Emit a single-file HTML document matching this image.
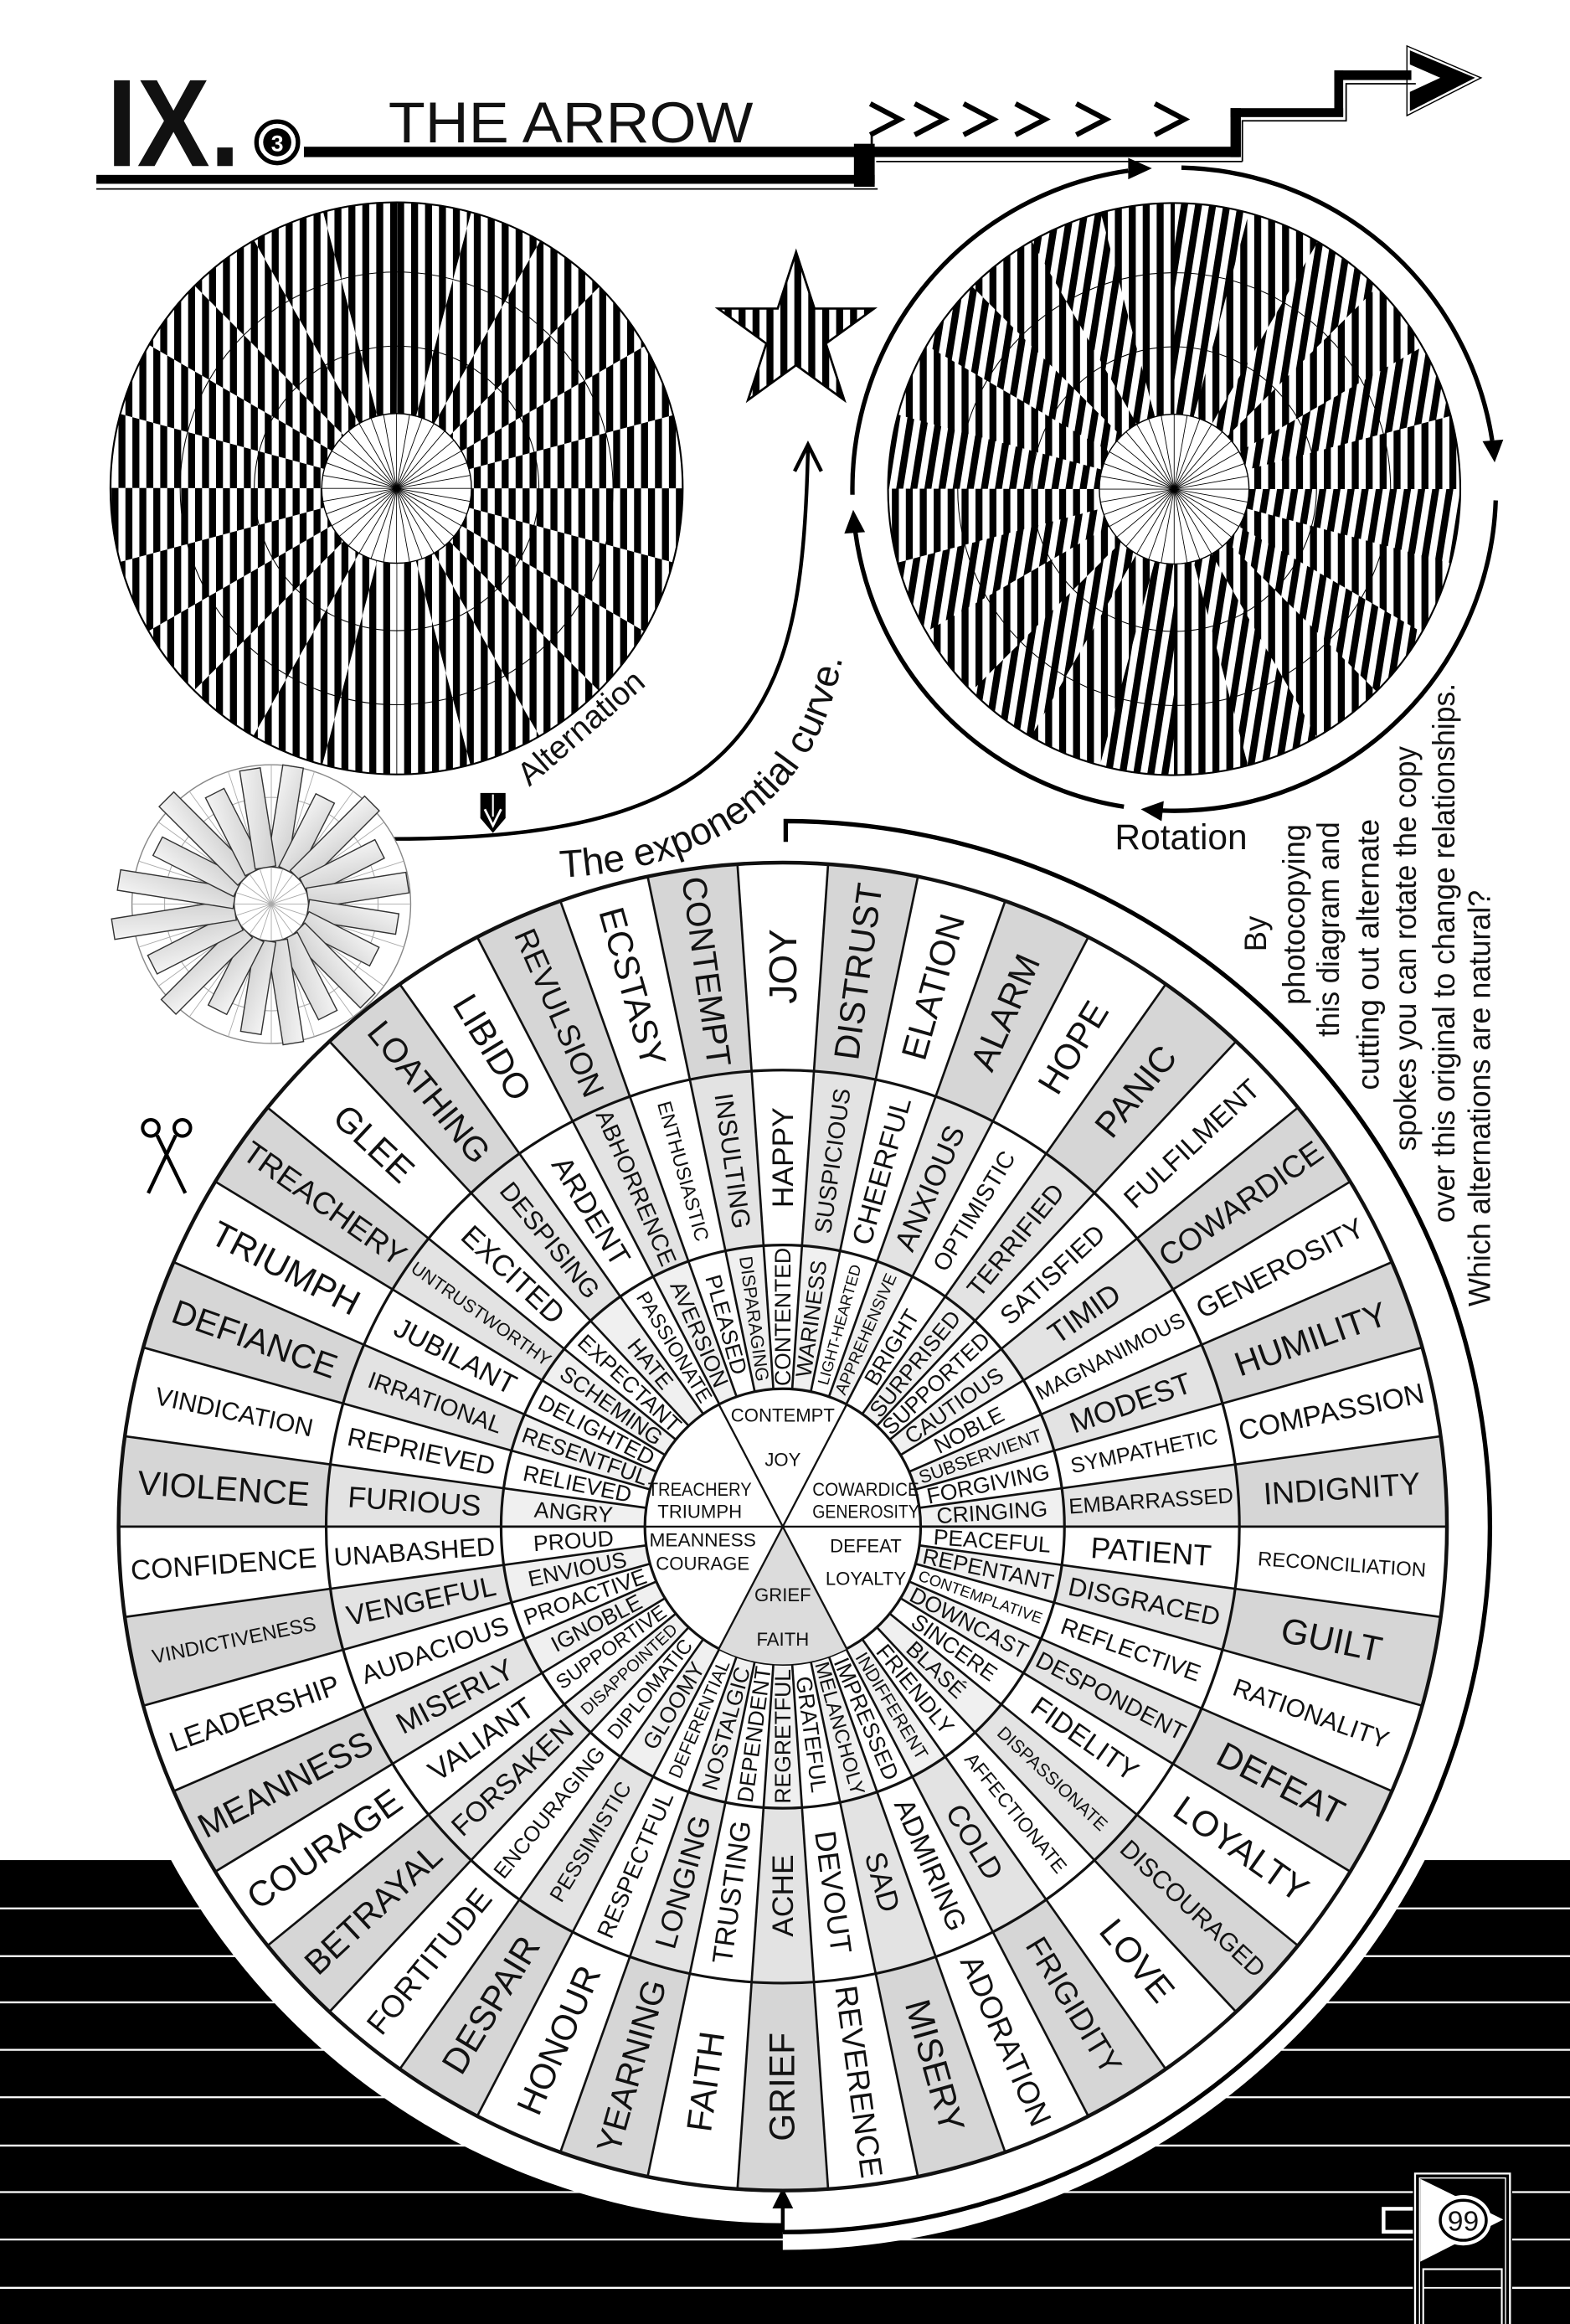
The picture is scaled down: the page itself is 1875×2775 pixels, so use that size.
<!DOCTYPE html>
<html><head><meta charset="utf-8">
<style>
html,body{margin:0;padding:0;background:#fff;}
svg{display:block;}
text{font-family:"Liberation Sans","DejaVu Sans",sans-serif;fill:#111;}
.w text{text-anchor:middle;dominant-baseline:central;}
.o{font-size:24px;}
.m{font-size:19px;}
.i{font-size:15px;}
.c text{font-size:12.5px;}
</style></head>
<body>
<svg width="1875" height="2775" viewBox="0 0 1059 1568" preserveAspectRatio="none" xmlns="http://www.w3.org/2000/svg">
<defs>
<pattern id="sA" patternUnits="userSpaceOnUse" width="9.4" height="20"><rect width="4.7" height="20" fill="#000"/></pattern>
<pattern id="sB" patternUnits="userSpaceOnUse" width="9.4" height="20"><rect x="4.7" width="4.7" height="20" fill="#000"/></pattern>
<pattern id="sC" patternUnits="userSpaceOnUse" width="9.4" height="20" patternTransform="rotate(9)"><rect width="4.7" height="20" fill="#000"/></pattern>
<mask id="mL" maskUnits="userSpaceOnUse" x="0" y="0" width="1059" height="1568">
<circle cx="267.5" cy="329.5" r="96.5" fill="none" stroke="#fff" stroke-width="193" stroke-dasharray="25.265 25.265"/>
</mask>
<mask id="mR" maskUnits="userSpaceOnUse" x="0" y="0" width="1059" height="1568">
<circle cx="792" cy="330" r="96.5" fill="none" stroke="#fff" stroke-width="193" stroke-dasharray="25.265 25.265"/>
</mask>
<linearGradient id="gw" x1="0" y1="0" x2="1" y2="1"><stop offset="0" stop-color="#f4f4f4"/><stop offset="1" stop-color="#cfcfcf"/></linearGradient>
</defs>
<rect width="1059" height="1568" fill="#fff"/>

<!-- bottom stripes -->
<rect x="0" y="1255" width="1059" height="313" fill="#000"/>
<g stroke="#fff" stroke-width="1.3">
<line x1="0" y1="1287.6" x2="1059" y2="1287.6"/><line x1="0" y1="1319.8" x2="1059" y2="1319.8"/>
<line x1="0" y1="1351" x2="1059" y2="1351"/><line x1="0" y1="1383" x2="1059" y2="1383"/>
<line x1="0" y1="1415" x2="1059" y2="1415"/><line x1="0" y1="1447.6" x2="1059" y2="1447.6"/>
<line x1="0" y1="1479" x2="1059" y2="1479"/><line x1="0" y1="1511" x2="1059" y2="1511"/>
<line x1="0" y1="1543.6" x2="1059" y2="1543.6"/>
</g>

<!-- page number -->
<rect x="932" y="1489" width="22" height="18" fill="#fff"/>
<rect x="934.5" y="1491.5" width="19" height="13" fill="#000"/>
<rect x="953" y="1465" width="67" height="103" fill="#000"/>
<rect x="954.5" y="1466.5" width="64" height="110" fill="none" stroke="#fff" stroke-width="1.3"/>
<rect x="957.5" y="1469.5" width="58" height="110" fill="none" stroke="#fff" stroke-width="0.8"/>
<polygon points="958,1470 1014,1497.5 958,1526" fill="#fff"/>
<rect x="960" y="1531" width="53" height="40" fill="none" stroke="#fff" stroke-width="1.2"/>
<line x1="960" y1="1543.6" x2="1013" y2="1543.6" stroke="#fff" stroke-width="1"/>
<ellipse cx="987" cy="1498" rx="19" ry="17" fill="#fff"/>
<ellipse cx="987" cy="1498" rx="15.5" ry="13.5" fill="#fff" stroke="#000" stroke-width="2"/>
<text x="987" y="1505" font-size="19" text-anchor="middle">99</text>

<!-- white surround of wheel -->
<circle cx="528" cy="1030" r="470" fill="#fff"/>
<path d="M528,554 A476,476 0 0 1 528,1506" fill="none" stroke="#fff" stroke-width="24"/>
<path d="M530,568 L530,554 A476,476 0 0 1 528,1506" fill="none" stroke="#000" stroke-width="3"/>
<line x1="528" y1="1506" x2="528" y2="1482" stroke="#000" stroke-width="2.5"/>
<polygon points="528,1476 521,1490 535,1490" fill="#000"/>

<!-- WHEEL -->
<g class="w">
<circle cx="528" cy="1030" r="448" fill="#fff"/>
<circle cx="528" cy="1030" r="378" fill="none" stroke="#d6d6d6" stroke-width="140" stroke-dasharray="51.631 51.631" stroke-dashoffset="51.631"/>
<circle cx="528" cy="1030" r="249" fill="none" stroke="#e3e3e3" stroke-width="118" stroke-dasharray="34.011 34.011" stroke-dashoffset="34.011"/>
<circle cx="528" cy="1030" r="141.5" fill="none" stroke="#f0f0f0" stroke-width="97" stroke-dasharray="19.328 19.328" stroke-dashoffset="19.328"/>
<g stroke="#111" stroke-width="1.5">
<line x1="80" y1="1030" x2="976" y2="1030" transform="rotate(-86.087 528 1030)"/>
<line x1="80" y1="1030" x2="976" y2="1030" transform="rotate(-78.26 528 1030)"/>
<line x1="80" y1="1030" x2="976" y2="1030" transform="rotate(-70.435 528 1030)"/>
<line x1="80" y1="1030" x2="976" y2="1030" transform="rotate(-62.609 528 1030)"/>
<line x1="80" y1="1030" x2="976" y2="1030" transform="rotate(-54.783 528 1030)"/>
<line x1="80" y1="1030" x2="976" y2="1030" transform="rotate(-46.957 528 1030)"/>
<line x1="80" y1="1030" x2="976" y2="1030" transform="rotate(-39.13 528 1030)"/>
<line x1="80" y1="1030" x2="976" y2="1030" transform="rotate(-31.304 528 1030)"/>
<line x1="80" y1="1030" x2="976" y2="1030" transform="rotate(-23.478 528 1030)"/>
<line x1="80" y1="1030" x2="976" y2="1030" transform="rotate(-15.652 528 1030)"/>
<line x1="80" y1="1030" x2="976" y2="1030" transform="rotate(-7.826 528 1030)"/>
<line x1="80" y1="1030" x2="976" y2="1030"/>
<line x1="80" y1="1030" x2="976" y2="1030" transform="rotate(7.826 528 1030)"/>
<line x1="80" y1="1030" x2="976" y2="1030" transform="rotate(15.652 528 1030)"/>
<line x1="80" y1="1030" x2="976" y2="1030" transform="rotate(23.478 528 1030)"/>
<line x1="80" y1="1030" x2="976" y2="1030" transform="rotate(31.304 528 1030)"/>
<line x1="80" y1="1030" x2="976" y2="1030" transform="rotate(39.13 528 1030)"/>
<line x1="80" y1="1030" x2="976" y2="1030" transform="rotate(46.957 528 1030)"/>
<line x1="80" y1="1030" x2="976" y2="1030" transform="rotate(54.783 528 1030)"/>
<line x1="80" y1="1030" x2="976" y2="1030" transform="rotate(62.609 528 1030)"/>
<line x1="80" y1="1030" x2="976" y2="1030" transform="rotate(70.435 528 1030)"/>
<line x1="80" y1="1030" x2="976" y2="1030" transform="rotate(78.26 528 1030)"/>
<line x1="80" y1="1030" x2="976" y2="1030" transform="rotate(86.087 528 1030)"/>
</g>
<circle cx="528" cy="1030" r="308" fill="none" stroke="#111" stroke-width="1.8"/>
<circle cx="528" cy="1030" r="190" fill="none" stroke="#111" stroke-width="1.8"/>
<circle cx="528" cy="1030" r="448" fill="none" stroke="#111" stroke-width="2.5"/>

<!-- center -->
<circle cx="528" cy="1030" r="93" fill="#fff" stroke="#111" stroke-width="1.8"/>
<path d="M528,1030 L484.9,1112.4 A93,93 0 0 0 571.1,1112.4 Z" fill="#dcdcdc"/>
<g stroke="#111" stroke-width="1.3">
<line x1="435" y1="1030" x2="621" y2="1030"/>
<line x1="484.9" y1="947.6" x2="571.1" y2="1112.4"/>
<line x1="571.1" y1="947.6" x2="484.9" y2="1112.4"/>
</g>
<g class="c">
<text x="528" y="955">CONTEMPT</text>
<text x="528" y="985">JOY</text>
<text x="472" y="1005" textLength="70" lengthAdjust="spacingAndGlyphs">TREACHERY</text>
<text x="472" y="1020">TRIUMPH</text>
<text x="584" y="1005" textLength="72" lengthAdjust="spacingAndGlyphs">COWARDICE</text>
<text x="584" y="1020" textLength="72" lengthAdjust="spacingAndGlyphs">GENEROSITY</text>
<text x="474" y="1039" textLength="72" lengthAdjust="spacingAndGlyphs">MEANNESS</text>
<text x="474" y="1055">COURAGE</text>
<text x="584" y="1043">DEFEAT</text>
<text x="584" y="1065">LOYALTY</text>
<text x="528" y="1076">GRIEF</text>
<text x="528" y="1106">FAITH</text>
</g>

<!-- words -->
<g transform="rotate(-90 528 1030)">
<text class="o" x="906" y="1030" style="font-size:26px">JOY</text><text class="o" x="150" y="1030">GRIEF</text>
<text class="m" x="777" y="1030" style="font-size:20px">HAPPY</text><text class="m" x="279" y="1030" style="font-size:20px">ACHE</text>
<text class="i" x="669.5" y="1030">CONTENTED</text><text class="i" x="386.5" y="1030">REGRETFUL</text>
</g>
<g transform="rotate(-82.174 528 1030)">
<text class="o" x="906" y="1030">DISTRUST</text><text class="o" x="150" y="1030">FAITH</text>
<text class="m" x="777" y="1030" style="font-size:16px">SUSPICIOUS</text><text class="m" x="279" y="1030">TRUSTING</text>
<text class="i" x="669.5" y="1030">WARINESS</text><text class="i" x="386.5" y="1030">DEPENDENT</text>
</g>
<g transform="rotate(-74.348 528 1030)">
<text class="o" x="906" y="1030">ELATION</text><text class="o" x="150" y="1030" style="font-size:23px">YEARNING</text>
<text class="m" x="777" y="1030">CHEERFUL</text><text class="m" x="279" y="1030" style="font-size:20px">LONGING</text>
<text class="i" x="669.5" y="1030" style="font-size:10.5px">LIGHT-HEARTED</text><text class="i" x="386.5" y="1030">NOSTALGIC</text>
</g>
<g transform="rotate(-66.522 528 1030)">
<text class="o" x="906" y="1030">ALARM</text><text class="o" x="150" y="1030">HONOUR</text>
<text class="m" x="777" y="1030" style="font-size:20px">ANXIOUS</text><text class="m" x="279" y="1030" style="font-size:16px">RESPECTFUL</text>
<text class="i" x="669.5" y="1030" style="font-size:11.3px">APPREHENSIVE</text><text class="i" x="386.5" y="1030" style="font-size:12.4px">DEFERENTIAL</text>
</g>
<g transform="rotate(-58.696 528 1030)">
<text class="o" x="906" y="1030">HOPE</text><text class="o" x="150" y="1030">DESPAIR</text>
<text class="m" x="777" y="1030" style="font-size:16px">OPTIMISTIC</text><text class="m" x="279" y="1030" style="font-size:14.5px">PESSIMISTIC</text>
<text class="i" x="669.5" y="1030">BRIGHT</text><text class="i" x="386.5" y="1030">GLOOMY</text>
</g>
<g transform="rotate(-50.87 528 1030)">
<text class="o" x="906" y="1030">PANIC</text><text class="o" x="150" y="1030" style="font-size:21px">FORTITUDE</text>
<text class="m" x="777" y="1030" style="font-size:17.5px">TERRIFIED</text><text class="m" x="279" y="1030" style="font-size:14.5px">ENCOURAGING</text>
<text class="i" x="669.5" y="1030">SURPRISED</text><text class="i" x="386.5" y="1030" style="font-size:13.6px">DIPLOMATIC</text>
</g>
<g transform="rotate(-43.043 528 1030)">
<text class="o" x="906" y="1030" style="font-size:19px">FULFILMENT</text><text class="o" x="150" y="1030" style="font-size:23px">BETRAYAL</text>
<text class="m" x="777" y="1030" style="font-size:17.5px">SATISFIED</text><text class="m" x="279" y="1030">FORSAKEN</text>
<text class="i" x="669.5" y="1030">SUPPORTED</text><text class="i" x="386.5" y="1030" style="font-size:11.3px">DISAPPOINTED</text>
</g>
<g transform="rotate(-35.217 528 1030)">
<text class="o" x="906" y="1030" style="font-size:21px">COWARDICE</text><text class="o" x="150" y="1030">COURAGE</text>
<text class="m" x="777" y="1030" style="font-size:20px">TIMID</text><text class="m" x="279" y="1030" style="font-size:20px">VALIANT</text>
<text class="i" x="669.5" y="1030">CAUTIOUS</text><text class="i" x="386.5" y="1030" style="font-size:13.6px">SUPPORTIVE</text>
</g>
<g transform="rotate(-27.391 528 1030)">
<text class="o" x="906" y="1030" style="font-size:19px">GENEROSITY</text><text class="o" x="150" y="1030" style="font-size:23px">MEANNESS</text>
<text class="m" x="777" y="1030" style="font-size:14.5px">MAGNANIMOUS</text><text class="m" x="279" y="1030" style="font-size:20px">MISERLY</text>
<text class="i" x="669.5" y="1030">NOBLE</text><text class="i" x="386.5" y="1030">IGNOBLE</text>
</g>
<g transform="rotate(-19.565 528 1030)">
<text class="o" x="906" y="1030" style="font-size:23px">HUMILITY</text><text class="o" x="150" y="1030" style="font-size:19px">LEADERSHIP</text>
<text class="m" x="777" y="1030" style="font-size:20px">MODEST</text><text class="m" x="279" y="1030" style="font-size:17.5px">AUDACIOUS</text>
<text class="i" x="669.5" y="1030" style="font-size:12.4px">SUBSERVIENT</text><text class="i" x="386.5" y="1030">PROACTIVE</text>
</g>
<g transform="rotate(-11.739 528 1030)">
<text class="o" x="906" y="1030" style="font-size:19px">COMPASSION</text><text class="o" x="150" y="1030" style="font-size:13.5px">VINDICTIVENESS</text>
<text class="m" x="777" y="1030" style="font-size:14.5px">SYMPATHETIC</text><text class="m" x="279" y="1030">VENGEFUL</text>
<text class="i" x="669.5" y="1030">FORGIVING</text><text class="i" x="386.5" y="1030">ENVIOUS</text>
</g>
<g transform="rotate(-3.913 528 1030)">
<text class="o" x="906" y="1030" style="font-size:21px">INDIGNITY</text><text class="o" x="150" y="1030" style="font-size:19px">CONFIDENCE</text>
<text class="m" x="777" y="1030" style="font-size:14.5px">EMBARRASSED</text><text class="m" x="279" y="1030" style="font-size:17.5px">UNABASHED</text>
<text class="i" x="669.5" y="1030">CRINGING</text><text class="i" x="386.5" y="1030">PROUD</text>
</g>
<g transform="rotate(3.913 528 1030)">
<text class="o" x="906" y="1030" style="font-size:13.5px">RECONCILIATION</text><text class="o" x="150" y="1030" style="font-size:23px">VIOLENCE</text>
<text class="m" x="777" y="1030" style="font-size:20px">PATIENT</text><text class="m" x="279" y="1030" style="font-size:20px">FURIOUS</text>
<text class="i" x="669.5" y="1030">PEACEFUL</text><text class="i" x="386.5" y="1030">ANGRY</text>
</g>
<g transform="rotate(11.739 528 1030)">
<text class="o" x="906" y="1030">GUILT</text><text class="o" x="150" y="1030" style="font-size:17px">VINDICATION</text>
<text class="m" x="777" y="1030" style="font-size:17.5px">DISGRACED</text><text class="m" x="279" y="1030" style="font-size:17.5px">REPRIEVED</text>
<text class="i" x="669.5" y="1030">REPENTANT</text><text class="i" x="386.5" y="1030">RELIEVED</text>
</g>
<g transform="rotate(19.565 528 1030)">
<text class="o" x="906" y="1030" style="font-size:17px">RATIONALITY</text><text class="o" x="150" y="1030" style="font-size:23px">DEFIANCE</text>
<text class="m" x="777" y="1030" style="font-size:16px">REFLECTIVE</text><text class="m" x="279" y="1030" style="font-size:16px">IRRATIONAL</text>
<text class="i" x="669.5" y="1030" style="font-size:10.5px">CONTEMPLATIVE</text><text class="i" x="386.5" y="1030">RESENTFUL</text>
</g>
<g transform="rotate(27.391 528 1030)">
<text class="o" x="906" y="1030">DEFEAT</text><text class="o" x="150" y="1030">TRIUMPH</text>
<text class="m" x="777" y="1030" style="font-size:16px">DESPONDENT</text><text class="m" x="279" y="1030">JUBILANT</text>
<text class="i" x="669.5" y="1030">DOWNCAST</text><text class="i" x="386.5" y="1030">DELIGHTED</text>
</g>
<g transform="rotate(35.217 528 1030)">
<text class="o" x="906" y="1030">LOYALTY</text><text class="o" x="150" y="1030" style="font-size:21px">TREACHERY</text>
<text class="m" x="777" y="1030">FIDELITY</text><text class="m" x="279" y="1030" style="font-size:12.2px">UNTRUSTWORTHY</text>
<text class="i" x="669.5" y="1030">SINCERE</text><text class="i" x="386.5" y="1030">SCHEMING</text>
</g>
<g transform="rotate(43.043 528 1030)">
<text class="o" x="906" y="1030" style="font-size:17px">DISCOURAGED</text><text class="o" x="150" y="1030">GLEE</text>
<text class="m" x="777" y="1030" style="font-size:12.2px">DISPASSIONATE</text><text class="m" x="279" y="1030" style="font-size:20px">EXCITED</text>
<text class="i" x="669.5" y="1030">BLASÉ</text><text class="i" x="386.5" y="1030">EXPECTANT</text>
</g>
<g transform="rotate(50.87 528 1030)">
<text class="o" x="906" y="1030">LOVE</text><text class="o" x="150" y="1030" style="font-size:23px">LOATHING</text>
<text class="m" x="777" y="1030" style="font-size:13.3px">AFFECTIONATE</text><text class="m" x="279" y="1030" style="font-size:17.5px">DESPISING</text>
<text class="i" x="669.5" y="1030">FRIENDLY</text><text class="i" x="386.5" y="1030">HATE</text>
</g>
<g transform="rotate(58.696 528 1030)">
<text class="o" x="906" y="1030" style="font-size:21px">FRIGIDITY</text><text class="o" x="150" y="1030">LIBIDO</text>
<text class="m" x="777" y="1030" style="font-size:20px">COLD</text><text class="m" x="279" y="1030" style="font-size:20px">ARDENT</text>
<text class="i" x="669.5" y="1030" style="font-size:12.4px">INDIFFERENT</text><text class="i" x="386.5" y="1030" style="font-size:13.6px">PASSIONATE</text>
</g>
<g transform="rotate(66.522 528 1030)">
<text class="o" x="906" y="1030" style="font-size:21px">ADORATION</text><text class="o" x="150" y="1030" style="font-size:21px">REVULSION</text>
<text class="m" x="777" y="1030">ADMIRING</text><text class="m" x="279" y="1030" style="font-size:16px">ABHORRENCE</text>
<text class="i" x="669.5" y="1030">IMPRESSED</text><text class="i" x="386.5" y="1030">AVERSION</text>
</g>
<g transform="rotate(74.348 528 1030)">
<text class="o" x="906" y="1030">MISERY</text><text class="o" x="150" y="1030">ECSTASY</text>
<text class="m" x="777" y="1030" style="font-size:20px">SAD</text><text class="m" x="279" y="1030" style="font-size:13.3px">ENTHUSIASTIC</text>
<text class="i" x="669.5" y="1030" style="font-size:13.6px">MELANCHOLY</text><text class="i" x="386.5" y="1030">PLEASED</text>
</g>
<g transform="rotate(82.174 528 1030)">
<text class="o" x="906" y="1030" style="font-size:21px">REVERENCE</text><text class="o" x="150" y="1030" style="font-size:23px">CONTEMPT</text>
<text class="m" x="777" y="1030" style="font-size:20px">DEVOUT</text><text class="m" x="279" y="1030" style="font-size:17.5px">INSULTING</text>
<text class="i" x="669.5" y="1030">GRATEFUL</text><text class="i" x="386.5" y="1030" style="font-size:12.4px">DISPARAGING</text>
</g>
</g>

<!-- LEFT DISC (Alternation) -->
<circle cx="267.5" cy="329.5" r="193" fill="url(#sA)"/>
<g mask="url(#mL)"><circle cx="267.5" cy="329.5" r="193" fill="#fff"/><circle cx="267.5" cy="329.5" r="193" fill="url(#sB)"/></g>
<circle cx="267.5" cy="329.5" r="96" fill="none" stroke="#000" stroke-width="0.6"/>
<circle cx="267.5" cy="329.5" r="146" fill="none" stroke="#000" stroke-width="0.6"/>
<circle cx="267.5" cy="329.5" r="193" fill="none" stroke="#000" stroke-width="1.2"/>
<circle cx="267.5" cy="329.5" r="50.5" fill="#fff" stroke="#000" stroke-width="0.8"/>
<g stroke="#000" stroke-width="0.5" transform="translate(267.5 329.5)">
<line x1="-50.5" y1="0" x2="50.5" y2="0"/>
<line x1="-50.5" y1="0" x2="50.5" y2="0" transform="rotate(10)"/>
<line x1="-50.5" y1="0" x2="50.5" y2="0" transform="rotate(20)"/>
<line x1="-50.5" y1="0" x2="50.5" y2="0" transform="rotate(30)"/>
<line x1="-50.5" y1="0" x2="50.5" y2="0" transform="rotate(40)"/>
<line x1="-50.5" y1="0" x2="50.5" y2="0" transform="rotate(50)"/>
<line x1="-50.5" y1="0" x2="50.5" y2="0" transform="rotate(60)"/>
<line x1="-50.5" y1="0" x2="50.5" y2="0" transform="rotate(70)"/>
<line x1="-50.5" y1="0" x2="50.5" y2="0" transform="rotate(80)"/>
<line x1="-50.5" y1="0" x2="50.5" y2="0" transform="rotate(90)"/>
<line x1="-50.5" y1="0" x2="50.5" y2="0" transform="rotate(100)"/>
<line x1="-50.5" y1="0" x2="50.5" y2="0" transform="rotate(110)"/>
<line x1="-50.5" y1="0" x2="50.5" y2="0" transform="rotate(120)"/>
<line x1="-50.5" y1="0" x2="50.5" y2="0" transform="rotate(130)"/>
<line x1="-50.5" y1="0" x2="50.5" y2="0" transform="rotate(140)"/>
<line x1="-50.5" y1="0" x2="50.5" y2="0" transform="rotate(150)"/>
<line x1="-50.5" y1="0" x2="50.5" y2="0" transform="rotate(160)"/>
<line x1="-50.5" y1="0" x2="50.5" y2="0" transform="rotate(170)"/>
</g>

<!-- RIGHT DISC (Rotation) -->
<circle cx="792" cy="330" r="193" fill="url(#sA)"/>
<g mask="url(#mR)"><circle cx="792" cy="330" r="193" fill="#fff"/><circle cx="792" cy="330" r="193" fill="url(#sC)"/></g>
<circle cx="792" cy="330" r="96" fill="none" stroke="#000" stroke-width="0.6"/>
<circle cx="792" cy="330" r="146" fill="none" stroke="#000" stroke-width="0.6"/>
<circle cx="792" cy="330" r="193" fill="none" stroke="#000" stroke-width="1.2"/>
<circle cx="792" cy="330" r="50.5" fill="#fff" stroke="#000" stroke-width="0.8"/>
<g stroke="#000" stroke-width="0.5" transform="translate(792 330)">
<line x1="-50.5" y1="0" x2="50.5" y2="0"/>
<line x1="-50.5" y1="0" x2="50.5" y2="0" transform="rotate(10)"/>
<line x1="-50.5" y1="0" x2="50.5" y2="0" transform="rotate(20)"/>
<line x1="-50.5" y1="0" x2="50.5" y2="0" transform="rotate(30)"/>
<line x1="-50.5" y1="0" x2="50.5" y2="0" transform="rotate(40)"/>
<line x1="-50.5" y1="0" x2="50.5" y2="0" transform="rotate(50)"/>
<line x1="-50.5" y1="0" x2="50.5" y2="0" transform="rotate(60)"/>
<line x1="-50.5" y1="0" x2="50.5" y2="0" transform="rotate(70)"/>
<line x1="-50.5" y1="0" x2="50.5" y2="0" transform="rotate(80)"/>
<line x1="-50.5" y1="0" x2="50.5" y2="0" transform="rotate(90)"/>
<line x1="-50.5" y1="0" x2="50.5" y2="0" transform="rotate(100)"/>
<line x1="-50.5" y1="0" x2="50.5" y2="0" transform="rotate(110)"/>
<line x1="-50.5" y1="0" x2="50.5" y2="0" transform="rotate(120)"/>
<line x1="-50.5" y1="0" x2="50.5" y2="0" transform="rotate(130)"/>
<line x1="-50.5" y1="0" x2="50.5" y2="0" transform="rotate(140)"/>
<line x1="-50.5" y1="0" x2="50.5" y2="0" transform="rotate(150)"/>
<line x1="-50.5" y1="0" x2="50.5" y2="0" transform="rotate(160)"/>
<line x1="-50.5" y1="0" x2="50.5" y2="0" transform="rotate(170)"/>
</g>

<!-- rotation ring arrows -->
<g fill="none" stroke="#000" stroke-width="3">
<path d="M796.9,113.1 A217,217 0 0 1 1006.5,297.2"/>
<path d="M1008.9,337.6 A217,217 0 0 1 784,546.9"/>
<path d="M758.1,544.3 A217,217 0 0 1 577,359.1"/>
<path d="M575,333.8 A217,217 0 0 1 761,115.2"/>
</g>
<g fill="#000">
<polygon points="777,113.6 761,106.5 761,121"/>
<polygon points="1008.2,312 1014,296.6 1000,297.7"/>
<polygon points="769.5,546 785,540.5 783.5,554"/>
<polygon points="575.5,344 583.5,359 569.5,360"/>
</g>
<text x="752" y="573" font-size="24" fill="#222">Rotation</text>

<!-- star -->
<polygon points="537,170 549.4,208.2 589.6,208.2 557.1,231.8 569.5,270 537,246.4 504.5,270 516.9,231.8 484.4,208.2 524.6,208.2" fill="url(#sA)" stroke="#000" stroke-width="1.5"/>

<!-- exponential curve -->
<path d="M265,566 C390,566 470,545 510,480 C535,440 543,390 545,303" fill="none" stroke="#000" stroke-width="2.5"/>
<polyline points="536,318 545,300 554,318" fill="none" stroke="#000" stroke-width="2.5"/>
<path id="ecp" d="M378,592 C470,588 540,545 562,470 C572,435 575,405 577,368" fill="none"/>
<text font-size="26" fill="#222"><textPath href="#ecp">The exponential curve.</textPath></text>
<text transform="translate(357,531) rotate(-41)" font-size="22" fill="#222">Alternation</text>
<polygon points="324,535 341,535 341,552 332.5,562 324,552" fill="#000"/>
<polyline points="327,546 332.5,557 338,546" fill="none" stroke="#fff" stroke-width="1.6"/>
<line x1="332.5" y1="536" x2="332.5" y2="551" stroke="#fff" stroke-width="1.2"/>

<!-- small wheel -->
<g transform="translate(183 610)">
<circle r="94" fill="#fff" stroke="#888" stroke-width="0.8"/>
<circle r="72" fill="none" stroke="#aaa" stroke-width="0.6"/>
<circle r="50" fill="none" stroke="#aaa" stroke-width="0.6"/>
<circle r="25" fill="#fff" stroke="#666" stroke-width="0.8"/>
<g stroke="#aaa" stroke-width="0.5">
<line x1="-94" y1="0" x2="94" y2="0"/><line x1="-94" y1="0" x2="94" y2="0" transform="rotate(18)"/>
<line x1="-94" y1="0" x2="94" y2="0" transform="rotate(36)"/><line x1="-94" y1="0" x2="94" y2="0" transform="rotate(54)"/>
<line x1="-94" y1="0" x2="94" y2="0" transform="rotate(72)"/><line x1="-94" y1="0" x2="94" y2="0" transform="rotate(90)"/>
<line x1="-94" y1="0" x2="94" y2="0" transform="rotate(108)"/><line x1="-94" y1="0" x2="94" y2="0" transform="rotate(126)"/>
<line x1="-94" y1="0" x2="94" y2="0" transform="rotate(144)"/><line x1="-94" y1="0" x2="94" y2="0" transform="rotate(162)"/>
</g>
<g fill="url(#gw)" stroke="#333" stroke-width="0.8">
<rect x="-7" y="-94" width="14" height="69" transform="rotate(9)"/>
<rect x="-7" y="-80" width="14" height="55" transform="rotate(27)"/>
<rect x="-7" y="-96" width="14" height="71" transform="rotate(45)"/>
<rect x="-7" y="-82" width="14" height="57" transform="rotate(63)"/>
<rect x="-7" y="-93" width="14" height="68" transform="rotate(81)"/>
<rect x="-7" y="-86" width="14" height="61" transform="rotate(99)"/>
<rect x="-7" y="-78" width="14" height="53" transform="rotate(117)"/>
<rect x="-7" y="-92" width="14" height="67" transform="rotate(135)"/>
<rect x="-7" y="-84" width="14" height="59" transform="rotate(153)"/>
<rect x="-7" y="-95" width="14" height="70" transform="rotate(171)"/>
<rect x="-7" y="-88" width="14" height="63" transform="rotate(189)"/>
<rect x="-7" y="-80" width="14" height="55" transform="rotate(207)"/>
<rect x="-7" y="-98" width="14" height="73" transform="rotate(225)"/>
<rect x="-7" y="-90" width="14" height="65" transform="rotate(243)"/>
<rect x="-7" y="-108" width="14" height="83" transform="rotate(261)"/>
<rect x="-7" y="-104" width="14" height="79" transform="rotate(279)"/>
<rect x="-7" y="-86" width="14" height="61" transform="rotate(297)"/>
<rect x="-7" y="-100" width="14" height="75" transform="rotate(315)"/>
<rect x="-7" y="-84" width="14" height="59" transform="rotate(333)"/>
<rect x="-7" y="-92" width="14" height="67" transform="rotate(351)"/>
</g>
</g>

<!-- scissors -->
<circle cx="101.7" cy="761" r="5.5" fill="none" stroke="#000" stroke-width="2.3"/>
<circle cx="123" cy="761" r="5.5" fill="none" stroke="#000" stroke-width="2.3"/>
<line x1="106" y1="766" x2="125" y2="805" stroke="#000" stroke-width="2.4"/>
<line x1="118.5" y1="766" x2="100" y2="805" stroke="#000" stroke-width="2.4"/>

<!-- side text -->
<g font-size="21" fill="#222" text-anchor="middle">
<text x="854" y="630" transform="rotate(-90 854 630)" textLength="24" lengthAdjust="spacingAndGlyphs">By</text>
<text x="880" y="617" transform="rotate(-90 880 617)" textLength="122" lengthAdjust="spacingAndGlyphs">photocopying</text>
<text x="903" y="627" transform="rotate(-90 903 627)" textLength="145" lengthAdjust="spacingAndGlyphs">this diagram and</text>
<text x="930" y="644" transform="rotate(-90 930 644)" textLength="183" lengthAdjust="spacingAndGlyphs">cutting out alternate</text>
<text x="955" y="640" transform="rotate(-90 955 640)" textLength="273" lengthAdjust="spacingAndGlyphs">spokes you can rotate the copy</text>
<text x="981" y="643" transform="rotate(-90 981 643)" textLength="364" lengthAdjust="spacingAndGlyphs">over this original to change relationships.</text>
<text x="1005" y="741" transform="rotate(-90 1005 741)" textLength="281" lengthAdjust="spacingAndGlyphs">Which alternations are natural?</text>
</g>

<!-- HEADER -->
<text x="72" y="112" font-size="84" font-weight="bold" fill="#000" textLength="90" lengthAdjust="spacingAndGlyphs">IX.</text>
<circle cx="187" cy="96" r="14" fill="#fff" stroke="#000" stroke-width="3"/>
<circle cx="187" cy="96" r="9.5" fill="#000"/>
<text x="187" y="102" font-size="15" font-weight="bold" text-anchor="middle" style="fill:#fff">3</text>
<text x="262" y="96" font-size="39" fill="#000" textLength="246" lengthAdjust="spacingAndGlyphs">THE ARROW</text>
<rect x="205" y="99" width="631" height="7" fill="#000"/>
<rect x="65" y="118" width="525" height="6" fill="#000"/>
<line x1="65" y1="127.5" x2="592" y2="127.5" stroke="#000" stroke-width="1"/>
<rect x="576" y="97" width="14" height="29" fill="#000"/>
<line x1="591" y1="109" x2="838" y2="109" stroke="#000" stroke-width="1"/>
<rect x="830" y="73" width="7" height="33" fill="#000"/>
<rect x="830" y="73" width="76" height="6" fill="#000"/>
<rect x="900" y="47.5" width="6" height="31" fill="#000"/>
<rect x="900" y="47.5" width="52" height="6.5" fill="#000"/>
<polyline points="838,109 838,81.5 908,81.5 908,56.5 955,56.5" fill="none" stroke="#000" stroke-width="1"/>
<polygon points="951,34 995,52.5 951,75 951,62 971.5,52.5 951,43.5" fill="#000"/>
<polygon points="949,31 999,52.5 949,78" fill="none" stroke="#000" stroke-width="0.8"/>
<g fill="none" stroke="#000" stroke-width="3.5">
<polyline points="587,70 607,80.5 587,91"/>
<polyline points="617,70 637,80.5 617,91"/>
<polyline points="650,70 670,80.5 650,91"/>
<polyline points="685,70 705,80.5 685,91"/>
<polyline points="726,70 746,80.5 726,91"/>
<polyline points="779,70 799,80.5 779,91"/>
</g>
<line x1="588" y1="90" x2="588" y2="99" stroke="#000" stroke-width="1.5"/>
</svg>
</body></html>
